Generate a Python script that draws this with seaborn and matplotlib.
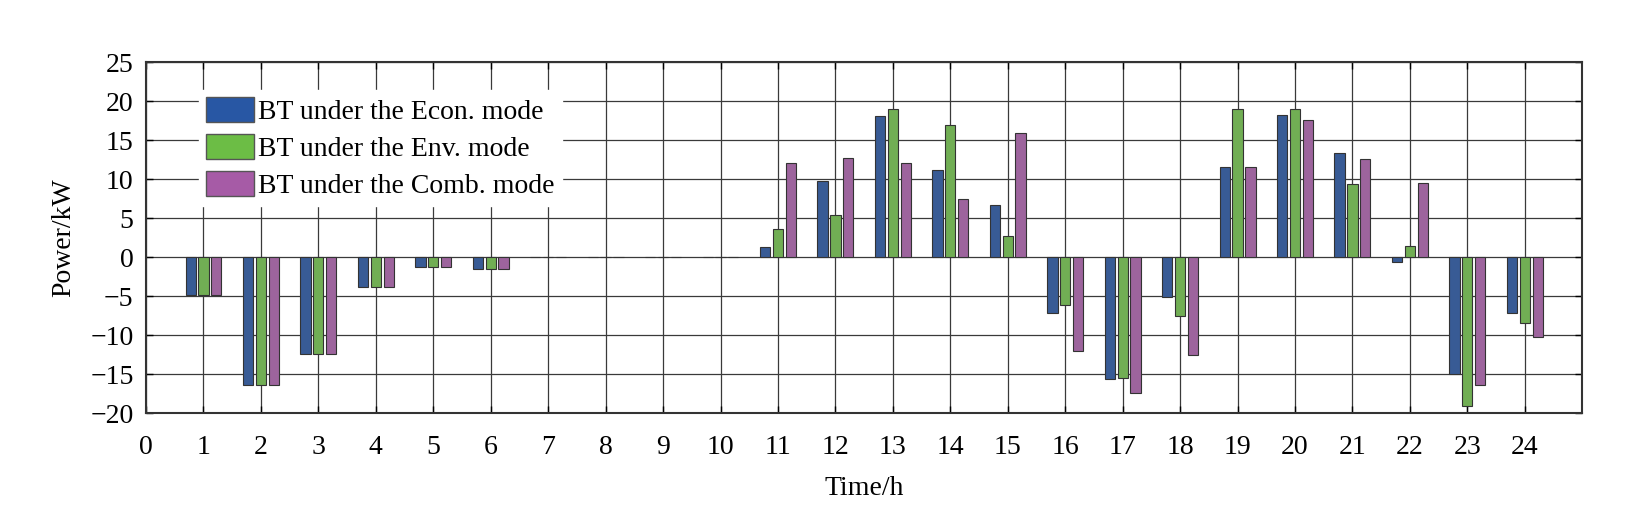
import numpy as np
import pandas as pd
import matplotlib.pyplot as plt
from matplotlib.patches import Patch
import seaborn as sns

# hourly battery power (kW) for the three operating modes
hours = list(range(1, 25))
econ = [-4.9, -16.4, -12.4, -3.9, -1.3, -1.5, 0, 0, 0, 0,
        1.3, 9.7, 18.1, 11.2, 6.7, -7.2, -15.7, -5.1,
        11.6, 18.2, 13.3, -0.6, -15.0, -7.2]
env = [-4.9, -16.4, -12.4, -3.9, -1.3, -1.5, 0, 0, 0, 0,
       3.6, 5.4, 19.0, 16.9, 2.7, -6.2, -15.5, -7.6,
       19.0, 19.0, 9.4, 1.4, -19.1, -8.5]
comb = [-4.9, -16.4, -12.4, -3.9, -1.3, -1.5, 0, 0, 0, 0,
        12.0, 12.7, 12.0, 7.5, 15.9, -12.0, -17.4, -12.6,
        11.5, 17.6, 12.6, 9.5, -16.4, -10.2]

series_names = ["BT under the Econ. mode", "BT under the Env. mode", "BT under the Comb. mode"]
colors = ["#2857a4", "#6cbd45", "#a65ba6"]

df = pd.DataFrame({
    "hour": hours * 3,
    "power": econ + env + comb,
    "mode": [series_names[0]] * 24 + [series_names[1]] * 24 + [series_names[2]] * 24,
})

plt.rcParams['font.family'] = ['Liberation Serif', 'DejaVu Serif']
plt.rcParams['font.size'] = 20

fig = plt.figure(figsize=(16.26, 5.16), dpi=100)
ax = fig.add_axes([0.0898, 0.1996, 0.8833, 0.6802])

sns.barplot(data=df, x="hour", y="power", hue="mode", hue_order=series_names,
            palette=colors, native_scale=True, width=0.67, gap=0.2,
            edgecolor="#333333", linewidth=0.8, errorbar=None, legend=False, ax=ax)

ax.set_xlim(0, 25)
ax.set_ylim(-20, 25)
ax.set_xticks(range(0, 25))
ax.set_yticks(range(-20, 26, 5))
ax.set_yticklabels([str(v).replace("-", "\u2212") for v in range(-20, 26, 5)])

ax.grid(True, color="#3a3a3a", linewidth=0.9)
ax.set_axisbelow(True)
ax.tick_params(direction="in", top=True, right=True, length=5, width=1, labelsize=20)
ax.tick_params(axis="x", pad=16)
ax.tick_params(axis="y", pad=9)
for s in ax.spines.values():
    s.set_linewidth(1.5)
    s.set_color("#333333")

ax.set_xlabel("Time/h", fontsize=20, labelpad=11)
ax.set_ylabel("Power/kW", fontsize=20, labelpad=10)

handles = [Patch(facecolor=c, edgecolor="#555555", linewidth=1) for c in colors]
ax.legend(handles, series_names, loc="upper left", bbox_to_anchor=(0.037, 0.92),
          borderaxespad=0, frameon=True, fancybox=False, framealpha=1,
          edgecolor="white", fontsize=20, handlelength=1.73, handleheight=1.0,
          handletextpad=0.15, labelspacing=0.32, borderpad=0.25)

fig.savefig("out.png", dpi=100)
